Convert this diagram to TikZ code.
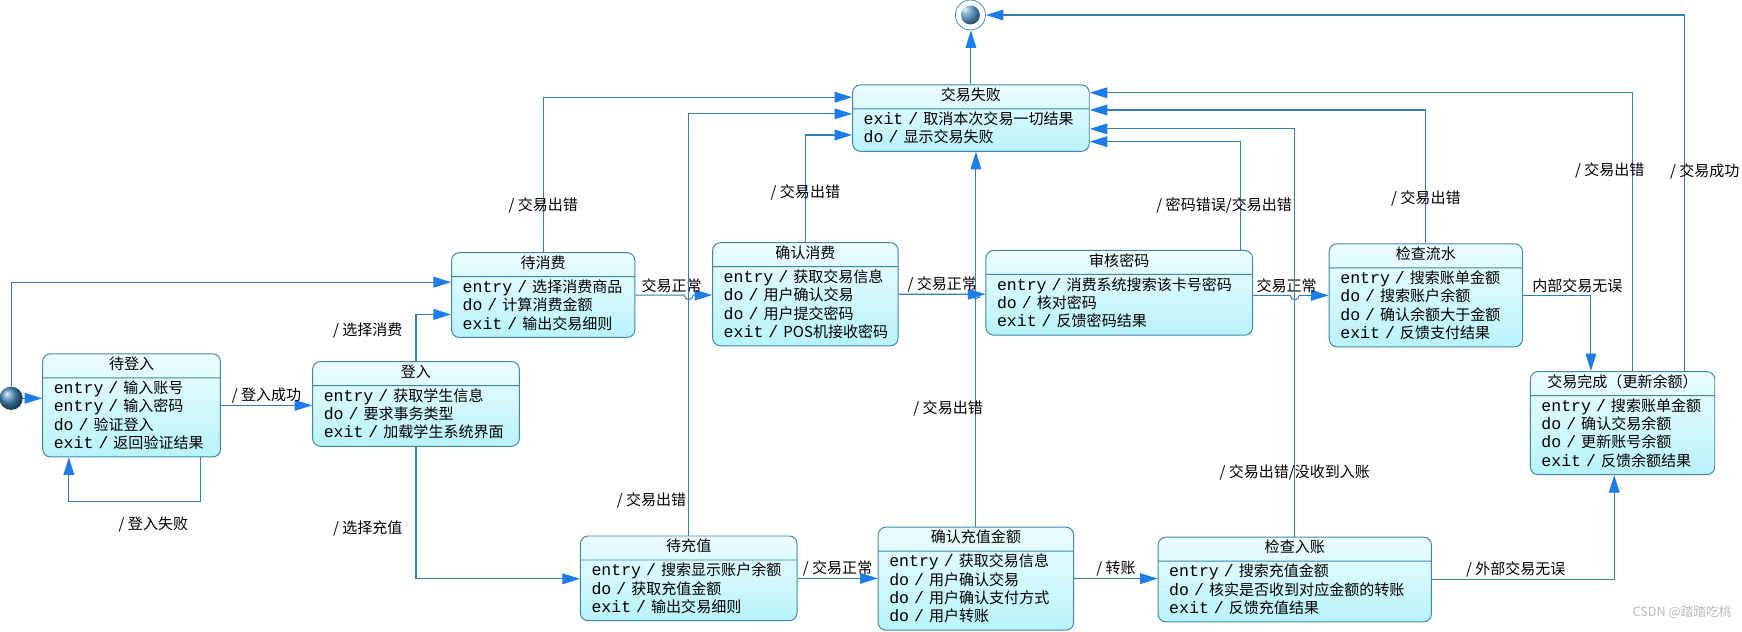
\documentclass[tikz,border=0pt]{standalone}
\usepackage{fontspec}
\setmainfont{Noto Sans CJK SC}
\setmonofont[Scale=1.1]{Liberation Mono}
\usetikzlibrary{positioning,arrows.meta,shapes.multipart,calc}

\definecolor{lineblue}{RGB}{52,126,178}
\definecolor{tipblue}{RGB}{28,124,234}
\definecolor{boxline}{RGB}{66,134,164}
\definecolor{boxtop}{RGB}{236,253,255}
\definecolor{boxbot}{RGB}{184,243,250}
\definecolor{dotblue}{RGB}{70,140,190}

\newcommand\smallcjk{\fontsize{7.7}{9.4}\selectfont}
\newcommand\act[2]{\mbox{\strut\texttt{#1 /} #2}}
\newcommand\ttl[1]{\makebox[\linewidth]{\strut #1}}

\tikzset{
  stbox/.style   = {rectangle split, rectangle split parts=2, draw=boxline,
                    line width=0.5pt, rounded corners=4pt, top color=boxtop,
                    bottom color=boxbot, align=left, font=\smallcjk,
                    inner xsep=2mm, inner ysep=1.2pt, anchor=north west},
  ar/.style      = {draw=lineblue, line width=0.55pt,
                    -{Triangle[length=9pt,width=5.5pt,color=tipblue]}},
  lbl/.style     = {font=\smallcjk, inner sep=1pt},
  initst/.style  = {circle, minimum size=4.2mm, inner sep=0pt, ball color=dotblue},
  finalst/.style = {circle, draw=boxline, fill=white, minimum size=5.4mm, inner sep=0pt,
                    path picture={\shade[ball color=dotblue]
                      (path picture bounding box.center) circle (1.7mm);}},
}

\begin{document}
\begin{tikzpicture}
\useasboundingbox (0,0) rectangle (31.36,-11.36);

% --- pseudo states ---
\node[initst] (init) at (0.20,-7.17) {};
\node[finalst] (final) at (17.47,-0.27) {};

% --- states ---
\node[stbox, text width=3.86cm] (fail) at (15.34,-1.52)
     {\ttl{交易失败}
      \nodepart{two}\act{exit}{取消本次交易一切结果}\\
      \act{do}{显示交易失败}};

\node[stbox, text width=2.80cm] (wlogin) at (0.76,-6.36)
     {\ttl{待登入}
      \nodepart{two}\act{entry}{输入账号}\\
      \act{entry}{输入密码}\\
      \act{do}{验证登入}\\
      \act{exit}{返回验证结果}};

\node[stbox, text width=3.32cm] (login) at (5.62,-6.50)
     {\ttl{登入}
      \nodepart{two}\act{entry}{获取学生信息}\\
      \act{do}{要求事务类型}\\
      \act{exit}{加载学生系统界面}};

\node[stbox, text width=2.90cm] (wcons) at (8.12,-4.54)
     {\ttl{待消费}
      \nodepart{two}\act{entry}{选择消费商品}\\
      \act{do}{计算消费金额}\\
      \act{exit}{输出交易细则}};

\node[stbox, text width=2.94cm] (cconf) at (12.82,-4.36)
     {\ttl{确认消费}
      \nodepart{two}\act{entry}{获取交易信息}\\
      \act{do}{用户确认交易}\\
      \act{do}{用户提交密码}\\
      \act{exit}{POS机接收密码}};

\node[stbox, text width=4.40cm] (pwd) at (17.74,-4.50)
     {\ttl{审核密码}
      \nodepart{two}\act{entry}{消费系统搜索该卡号密码}\\
      \act{do}{核对密码}\\
      \act{exit}{反馈密码结果}};

\node[stbox, text width=3.08cm] (flow) at (23.92,-4.38)
     {\ttl{检查流水}
      \nodepart{two}\act{entry}{搜索账单金额}\\
      \act{do}{搜索账户余额}\\
      \act{do}{确认余额大于金额}\\
      \act{exit}{反馈支付结果}};

\node[stbox, text width=2.92cm] (done) at (27.54,-6.68)
     {\ttl{交易完成（更新余额）}
      \nodepart{two}\act{entry}{搜索账单金额}\\
      \act{do}{确认交易余额}\\
      \act{do}{更新账号余额}\\
      \act{exit}{反馈余额结果}};

\node[stbox, text width=3.50cm] (wchg) at (10.44,-9.64)
     {\ttl{待充值}
      \nodepart{two}\act{entry}{搜索显示账户余额}\\
      \act{do}{获取充值金额}\\
      \act{exit}{输出交易细则}};

\node[stbox, text width=3.12cm] (cchg) at (15.80,-9.48)
     {\ttl{确认充值金额}
      \nodepart{two}\act{entry}{获取交易信息}\\
      \act{do}{用户确认交易}\\
      \act{do}{用户确认支付方式}\\
      \act{do}{用户转账}};

\node[stbox, text width=4.52cm] (chk) at (20.84,-9.66)
     {\ttl{检查入账}
      \nodepart{two}\act{entry}{搜索充值金额}\\
      \act{do}{核实是否收到对应金额的转账}\\
      \act{exit}{反馈充值结果}};

\node[text=gray!55, font=\fontsize{6.5}{8}\selectfont] (mark) at (30.28,-11.02)
     {CSDN @踏踏吃桃};

% --- login part ---
\draw[ar] (init.east) -- (init.east -| wlogin.west);
\draw[ar] (init.north) |- ([yshift=-5.4mm]wcons.north west);
\draw[ar] (wlogin.east) -- node[lbl, above] {/ 登入成功} (wlogin.east -| login.west);
\draw[ar] ([xshift=-3.6mm]wlogin.south east) -- ++(0,-0.8)
     -| node[lbl, below=2.3mm, pos=0.18] {/ 登入失败} ([xshift=4.8mm]wlogin.south west);
\draw[ar] (login.north) |- node[lbl, left=2mm, pos=0.33] {/ 选择消费}
     ([yshift=-11.2mm]wcons.north west);
\draw[ar] (login.south) |- node[lbl, left=2mm, pos=0.31] {/ 选择充值}
     ([yshift=-7.8mm]wchg.north west);

% --- purchase chain (hops over the vertical lines) ---
\draw[ar] (wcons.east) -- node[lbl, above, pos=0.74] {交易正常}
     ($(wcons.east -| wchg.north)+(-0.08,0)$) arc[start angle=180, end angle=360, radius=0.08]
     -- (wcons.east -| cconf.west);
\draw[ar] (cconf.east) -- node[lbl, above, pos=0.6] {/ 交易正常}
     ($(cconf.east -| cchg.north)+(-0.08,0)$) arc[start angle=180, end angle=360, radius=0.08]
     -- (cconf.east -| pwd.west);
\draw[ar] (pwd.east |- flow.west) -- node[lbl, above, pos=0.9] {交易正常}
     ($(flow.west -| chk.north)+(-0.08,0)$) arc[start angle=180, end angle=360, radius=0.08]
     -- (flow.west);
\draw[ar] (flow.east) -| node[lbl, above, pos=0.4] {内部交易无误} ([xshift=11mm]done.north west);

% --- recharge chain ---
\draw[ar] (wchg.east) -- node[lbl, above] {/ 交易正常} (wchg.east -| cchg.west);
\draw[ar] (cchg.east) -- node[lbl, above] {/ 转账} (cchg.east -| chk.west);
\draw[ar] (chk.east) -| node[lbl, above, pos=0.23] {/ 外部交易无误} ([xshift=15.2mm]done.south west);

% --- failures ---
\draw[ar] (wcons.north) |- node[lbl, pos=0.15] {/ 交易出错} ([yshift=-2.3mm]fail.north west);
\draw[ar] (wchg.north) |- node[lbl, left, pos=0.042] {/ 交易出错} ([yshift=-5.3mm]fail.north west);
\draw[ar] (cconf.north) |- node[lbl, pos=0.233] {/ 交易出错} ([yshift=-9.1mm]fail.north west);
\draw[ar] (cchg.north) -- node[lbl, pos=0.315, xshift=-5mm] {/ 交易出错} (cchg.north |- fail.south);
\draw[ar] ([xshift=-2.2mm]pwd.north east) |- node[lbl, pos=0.205, xshift=-3mm] {/ 密码错误/交易出错}
     ([yshift=-10.3mm]fail.north east);
\draw[ar] (chk.north) |- node[lbl, pos=0.079] {/ 交易出错/没收到入账} ([yshift=-8mm]fail.north east);
\draw[ar] (flow.north) |- node[lbl, pos=0.17] {/ 交易出错} ([yshift=-4.6mm]fail.north east);
\draw[ar] ([xshift=18.4mm]done.north west) |- node[lbl, pos=0.36, xshift=-4mm] {/ 交易出错}
     ([yshift=-1.5mm]fail.north east);

% --- to final state ---
\draw[ar] (fail.north) -- (fail.north |- final.south);
\draw[ar] ([xshift=27.8mm]done.north west) |- node[lbl, pos=0.28, xshift=3.7mm] {/ 交易成功} (final.east);
\end{tikzpicture}
\end{document}
